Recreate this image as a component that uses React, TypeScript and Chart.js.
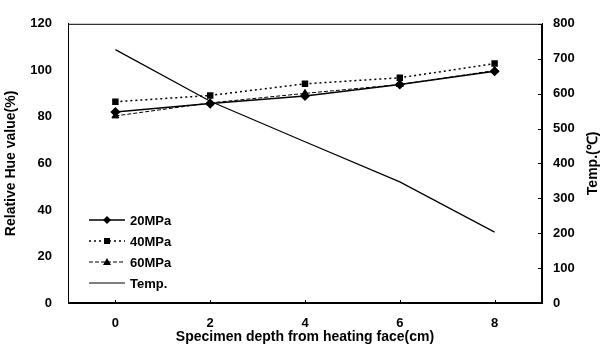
import React, { useEffect, useRef } from "react";
import { Chart, registerables } from "chart.js";
Chart.register(...registerables);

const depths = ["0", "2", "4", "6", "8"];
const mpa20 = [82.1, 85.7, 89.0, 93.9, 99.6];
const mpa40 = [86.5, 89.2, 94.2, 96.8, 102.9];
const mpa60 = [80.4, 86.0, 90.1, 93.9, 99.9];
const temp = [726, 578, 462, 347, 203];

const FONT = "'Liberation Sans', Arial, sans-serif";

const legendItems = [
  { label: "20MPa", dash: [] as number[], width: 1.5, point: "rectRot" },
  { label: "40MPa", dash: [2, 3], width: 1.5, point: "rect" },
  { label: "60MPa", dash: [4, 2], width: 1, point: "triangle" },
  { label: "Temp.", dash: [] as number[], width: 1.2, point: "" },
];

const framePlugin = {
  id: "frame",
  afterDraw(chart: any) {
    const ctx = chart.ctx;
    const a = chart.chartArea;
    ctx.save();
    ctx.strokeStyle = "#000";
    ctx.lineWidth = 1;
    ctx.setLineDash([]);
    ctx.strokeRect(a.left + 0.5, a.top + 0.5, a.right - a.left - 1, a.bottom - a.top - 1);
    const y1 = chart.scales.y1;
    for (let v = 0; v <= 800; v += 100) {
      const py = Math.round(y1.getPixelForValue(v)) + 0.5;
      ctx.beginPath();
      ctx.moveTo(a.right, py);
      ctx.lineTo(a.right - 4, py);
      ctx.stroke();
    }
    const xs = chart.scales.x;
    for (let i = 0; i < depths.length; i++) {
      const px = Math.round(xs.getPixelForValue(i)) + 0.5;
      ctx.beginPath();
      ctx.moveTo(px, a.bottom);
      ctx.lineTo(px, a.bottom - 3);
      ctx.stroke();
    }
    ctx.fillStyle = "#000";
    ctx.font = `bold 14px ${FONT}`;
    ctx.textAlign = "center";
    ctx.textBaseline = "middle";
    ctx.translate(593, (a.top + a.bottom) / 2);
    ctx.rotate(-Math.PI / 2);
    ctx.fillText("Temp.(℃)", 0, 0);
    ctx.restore();

    ctx.save();
    ctx.strokeStyle = "#000";
    ctx.fillStyle = "#000";
    ctx.font = `bold 13px ${FONT}`;
    ctx.textAlign = "left";
    ctx.textBaseline = "middle";
    legendItems.forEach((it, i) => {
      const y = 220 + i * 21;
      ctx.lineWidth = it.width;
      ctx.setLineDash(it.dash);
      ctx.beginPath();
      ctx.moveTo(89, y);
      ctx.lineTo(125, y);
      ctx.stroke();
      ctx.setLineDash([]);
      if (it.point === "rect") ctx.fillRect(104, y - 3, 6, 6);
      else if (it.point === "rectRot") {
        ctx.beginPath();
        ctx.moveTo(107, y - 4);
        ctx.lineTo(111, y);
        ctx.lineTo(107, y + 4);
        ctx.lineTo(103, y);
        ctx.closePath();
        ctx.fill();
      } else if (it.point === "triangle") {
        ctx.beginPath();
        ctx.moveTo(107, y - 4);
        ctx.lineTo(111, y + 3);
        ctx.lineTo(103, y + 3);
        ctx.closePath();
        ctx.fill();
      }
      ctx.fillText(it.label, 130, y + 1);
    });
    ctx.restore();
  },
};

export default function App() {
  const ref = useRef<HTMLCanvasElement>(null);
  useEffect(() => {
    if (!ref.current) return;
    const tickFont = { family: FONT, size: 13, weight: "bold" as const };
    const titleFont = { family: FONT, size: 14, weight: "bold" as const };
    const chart = new Chart(ref.current, {
      type: "line",
      data: {
        labels: depths,
        datasets: [
          {
            label: "20MPa", data: mpa20, yAxisID: "y", borderColor: "#000", backgroundColor: "#000",
            borderWidth: 1.5, pointStyle: "rectRot", pointRadius: 4, tension: 0,
          },
          {
            label: "40MPa", data: mpa40, yAxisID: "y", borderColor: "#000", backgroundColor: "#000",
            borderWidth: 1.5, borderDash: [2, 3], pointStyle: "rect", pointRadius: 3.5, tension: 0,
          },
          {
            label: "60MPa", data: mpa60, yAxisID: "y", borderColor: "#000", backgroundColor: "#000",
            borderWidth: 1, borderDash: [4, 2], pointStyle: "triangle", pointRadius: 4, tension: 0,
          },
          {
            label: "Temp.", data: temp, yAxisID: "y1", borderColor: "#000", backgroundColor: "#000",
            borderWidth: 1.2, pointRadius: 0, tension: 0,
          },
        ],
      },
      options: {
        animation: false,
        responsive: false,
        maintainAspectRatio: false,
        layout: { padding: { top: 15, left: 0, right: 0, bottom: 0 } },
        plugins: { legend: { display: false }, tooltip: { enabled: false } },
        scales: {
          x: {
            type: "category",
            offset: true,
            grid: { display: false, drawTicks: false },
            border: { display: true, color: "#000" },
            ticks: { font: tickFont, color: "#000", padding: 13 },
            title: {
              display: true, text: "Specimen depth from heating face(cm)",
              font: titleFont, color: "#000", padding: { top: 0, bottom: 1 },
            },
            afterFit: (s: any) => { s.height = 44; },
          },
          y: {
            position: "left",
            min: 0, max: 120,
            grid: { display: false, drawTicks: false },
            border: { display: true, color: "#000" },
            ticks: { stepSize: 20, font: tickFont, color: "#000", padding: 16 },
            title: {
              display: true, text: "Relative Hue value(%)",
              font: titleFont, color: "#000", padding: { top: 3, bottom: 0 },
            },
            afterFit: (s: any) => { s.width = 68; },
          },
          y1: {
            position: "right",
            min: 0, max: 800,
            grid: { display: false, drawTicks: false },
            border: { display: true, color: "#000" },
            ticks: { stepSize: 100, font: tickFont, color: "#000", padding: 11 },
            afterFit: (s: any) => { s.width = 63; },
          },
        },
      },
      plugins: [framePlugin],
    });
    return () => chart.destroy();
  }, []);
  return (
    <div style={{ position: "fixed", left: 0, top: 0, width: 605, height: 347, background: "#fff" }}>
      <canvas ref={ref} width={605} height={347} style={{ width: 605, height: 347 }} />
    </div>
  );
}
